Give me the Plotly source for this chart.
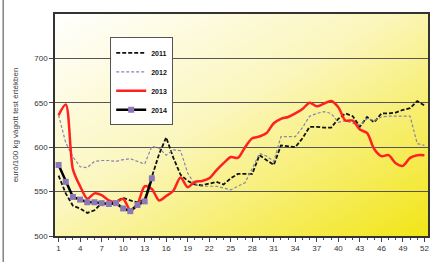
import base64
import plotly.graph_objects as go

weeks = list(range(1, 53))
weeks_2014 = list(range(1, 15))

y2011 = [568, 548, 534, 531, 526, 529, 537, 537, 539, 543, 540, 538, 541,
         566, 592, 611, 588, 569, 562, 558, 557, 559, 561, 558, 565, 570,
         570, 570, 591, 585, 580, 602, 601, 600, 610, 623, 623, 622, 622,
         632, 638, 635, 623, 634, 628, 638, 638, 639, 642, 644, 652, 647]
y2012 = [636, 605, 589, 578, 577, 584, 585, 585, 584, 586, 587, 584, 581,
         601, 599, 591, 597, 596, 571, 558, 556, 556, 556, 554, 552, 556,
         560, 576, 593, 590, 584, 612, 612, 612, 622, 635, 638, 640, 638,
         628, 630, 627, 625, 632, 630, 634, 635, 635, 635, 635, 604, 602]
y2013 = [636, 648, 575, 556, 542, 548, 546, 540, 538, 542, 529, 536, 556,
         553, 540, 545, 551, 566, 555, 561, 562, 565, 574, 582, 589, 588,
         600, 610, 612, 616, 627, 632, 634, 638, 643, 650, 646, 649, 652,
         645, 630, 630, 620, 616, 598, 590, 591, 582, 579, 588, 591, 591]
y2014 = [580, 561, 544, 541, 538, 538, 537, 536, 537, 531, 528, 535, 539, 565]

x_tick_vals = list(range(1, 53, 3))
y_tick_vals = [500, 550, 600, 650, 700]
y_title = "euró/100 kg vágott test értékben"

svg = ('<svg xmlns="http://www.w3.org/2000/svg" width="400" height="240" preserveAspectRatio="none">'
       '<defs><linearGradient id="g" x1="0" y1="0" x2="1" y2="1">'
       '<stop offset="0" stop-color="#ffffff"/>'
       '<stop offset="0.45" stop-color="#fbf6bc"/>'
       '<stop offset="1" stop-color="#f2e516"/>'
       '</linearGradient></defs>'
       '<rect width="400" height="240" fill="url(#g)"/></svg>')
bg_src = "data:image/svg+xml;base64," + base64.b64encode(svg.encode()).decode()

fig = go.Figure()
fig.add_trace(go.Scatter(x=weeks, y=y2011, name="2011", mode="lines",
                         line=dict(color="#111111", width=1.8, dash="4px,2px")))
fig.add_trace(go.Scatter(x=weeks, y=y2012, name="2012", mode="lines",
                         line=dict(color="#8787a8", width=1.2, dash="3px,2px")))
fig.add_trace(go.Scatter(x=weeks, y=y2013, name="2013", mode="lines",
                         line=dict(color="#ff2020", width=2.5, shape="spline", smoothing=0.8)))
fig.add_trace(go.Scatter(x=weeks_2014, y=y2014, name="2014", mode="lines+markers",
                         line=dict(color="#000000", width=2.5),
                         marker=dict(symbol="square", size=6, color="#8a78b8",
                                     line=dict(width=0))))

fig.update_layout(
    width=441, height=262,
    margin=dict(l=55, r=13, t=14, b=26, autoexpand=False),
    paper_bgcolor="white",
    plot_bgcolor="rgba(0,0,0,0)",
    font=dict(family="Liberation Sans, Arial, sans-serif", size=8, color="#333333"),
    showlegend=True,
    legend=dict(x=0.148, y=0.895, xanchor="left", yanchor="top",
                bgcolor="white", bordercolor="#555555", borderwidth=1,
                font=dict(size=7, color="#111111", weight="bold"),
                itemwidth=30, tracegroupgap=0),
    images=[dict(source=bg_src, xref="paper", yref="paper", x=0, y=1,
                 sizex=1, sizey=1, sizing="stretch", layer="below")],
    shapes=[dict(type="line", xref="paper", yref="paper",
                 x0=-0.139, x1=-0.139, y0=-0.2, y1=1.1,
                 line=dict(color="#444444", width=1))],
)
fig.update_xaxes(range=[0.5, 52.5], tickvals=x_tick_vals, ticks="outside",
                 ticklen=4, tickcolor="#444444", showgrid=False, zeroline=False,
                 showline=True, linecolor="#333333", linewidth=1.5, mirror=True,
                 automargin=False,
                 minor=dict(dtick=1, tick0=1, ticks="outside", ticklen=2,
                            tickcolor="#444444", showgrid=False),
                 tickfont=dict(size=8, color="#333333"))
fig.update_yaxes(range=[500, 750], tickvals=y_tick_vals, ticks="outside",
                 ticklen=4, tickcolor="#444444", showgrid=True,
                 gridcolor="#555555", gridwidth=1.2, zeroline=False,
                 showline=True, linecolor="#333333", linewidth=1.5, mirror=True,
                 automargin=False,
                 tickfont=dict(size=8, color="#333333"),
                 title=dict(text=y_title, font=dict(size=8, color="#444444"),
                            standoff=14))

fig.write_html("out.html",
               config={"displayModeBar": False},
               post_script="document.body.style.margin='0';document.body.style.overflow='hidden';")
